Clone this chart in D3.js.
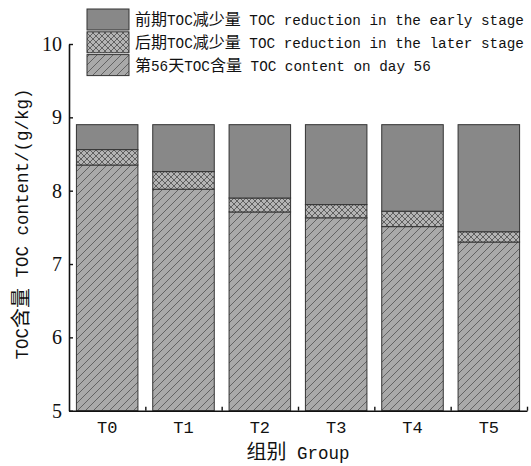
<!DOCTYPE html>
<html>
<head>
<meta charset="utf-8">
<script src="https://cdn.jsdelivr.net/npm/d3@7/dist/d3.min.js"></script>
<style>
  html, body { margin: 0; padding: 0; background: #fff; }
  svg { display: block; }
</style>
</head>
<body>
<svg id="chart" width="531" height="466"></svg>
<script>
// Groups and the three stacked TOC components (g/kg)
const groups = ["T0", "T1", "T2", "T3", "T4", "T5"];
const day56Content = [8.35, 8.02, 7.71, 7.63, 7.51, 7.30];
const laterReduction = [0.21, 0.24, 0.19, 0.18, 0.21, 0.14];
const earlyReduction = [0.34, 0.64, 1.00, 1.09, 1.18, 1.46];
const yTicks = [5, 6, 7, 8, 9, 10];

const seriesNames = [
  "第56天TOC含量 TOC content on day 56",
  "后期TOC减少量 TOC reduction in the later stage",
  "前期TOC减少量 TOC reduction in the early stage"
];
const seriesKeys = ["day56", "later", "early"];

const rows = groups.map((g, i) => ({
  group: g,
  day56: day56Content[i],
  later: laterReduction[i],
  early: earlyReduction[i]
}));

const svg = d3.select("#chart");
const plotLeft = 69, plotRight = 527, plotTop = 44, plotBottom = 410.7;

const x = d3.scaleBand().domain(groups).range([plotLeft, plotRight])
  .paddingInner(0.194).paddingOuter(0.097);
const y = d3.scaleLinear().domain([5, 10]).range([plotBottom, plotTop]);

// Fill patterns
const defs = svg.append("defs");
const hatch = defs.append("pattern").attr("id", "hatch")
  .attr("patternUnits", "userSpaceOnUse").attr("width", 8).attr("height", 8);
hatch.append("rect").attr("width", 8).attr("height", 8).attr("fill", "#a9a9a9");
hatch.append("path").attr("d", "M-2,2 L2,-2 M0,8 L8,0 M6,10 L10,6")
  .attr("stroke", "#505050").attr("stroke-width", 0.8);

const cross = defs.append("pattern").attr("id", "cross")
  .attr("patternUnits", "userSpaceOnUse").attr("width", 6).attr("height", 6);
cross.append("rect").attr("width", 6).attr("height", 6).attr("fill", "#b4b4b4");
cross.append("path").attr("d", "M0,0 L6,6 M6,0 L0,6 M-1,5 L1,7 M5,-1 L7,1 M-1,1 L1,-1 M5,7 L7,5")
  .attr("stroke", "#4a4a4a").attr("stroke-width", 0.8);

const fills = { day56: "url(#hatch)", later: "url(#cross)", early: "#888888" };

// Stacked bars, built up from the axis base at 5
const stacked = d3.stack().keys(seriesKeys)(rows);
const base = y.domain()[0];

svg.append("g").selectAll("g").data(stacked).join("g")
  .attr("fill", d => fills[d.key])
  .selectAll("rect").data(d => d).join("rect")
  .attr("x", d => x(d.data.group))
  .attr("width", x.bandwidth())
  .attr("y", d => y(d[1]))
  .attr("height", d => y(Math.max(d[0], base)) - y(d[1]))
  .attr("stroke", "#333")
  .attr("stroke-width", 1);

// Y axis with inward ticks
const yAxis = svg.append("g").attr("transform", `translate(${plotLeft},0)`)
  .call(d3.axisLeft(y).tickValues(yTicks).tickFormat(d3.format("d"))
    .tickSizeInner(-4).tickSizeOuter(0).tickPadding(7));
yAxis.select(".domain").attr("stroke", "#111").attr("stroke-width", 1.6);
yAxis.selectAll(".tick line").attr("stroke", "#111").attr("stroke-width", 1.4);
yAxis.selectAll("text").attr("font-family", "Liberation Serif, serif")
  .attr("font-size", 20).attr("fill", "#111");

// X axis: boundary ticks between groups
const xb = d3.scaleLinear().domain([0, groups.length]).range([plotLeft, plotRight]);
const xAxis = svg.append("g").attr("transform", `translate(0,${plotBottom})`)
  .call(d3.axisBottom(xb).tickValues(d3.range(1, groups.length + 1))
    .tickSizeInner(-4).tickSizeOuter(0).tickFormat(""));
xAxis.select(".domain").attr("stroke", "#111").attr("stroke-width", 1.6);
xAxis.selectAll(".tick line").attr("stroke", "#111").attr("stroke-width", 1.4);

// Group labels
const xLab = svg.append("g").attr("transform", `translate(0,${plotBottom})`)
  .call(d3.axisBottom(x).tickSize(0).tickPadding(10));
xLab.select(".domain").remove();
xLab.selectAll("text").attr("font-family", "Liberation Mono, monospace")
  .attr("font-size", 17).attr("fill", "#111");

// Mixed CJK / Latin text helper
const cjk = /[\u3000-\u9fff\uff00-\uffef]/;
function runs(str) {
  const out = [];
  for (const ch of str) {
    const isC = cjk.test(ch);
    if (out.length && out[out.length - 1].c === isC) out[out.length - 1].t += ch;
    else out.push({ c: isC, t: ch });
  }
  return out;
}
function mixedText(sel, str, cjkSize, latinSize) {
  runs(str).forEach(r => {
    sel.append("tspan").text(r.t)
      .attr("font-family", r.c ? "Noto Sans CJK SC" : "Liberation Mono, monospace")
      .attr("font-size", r.c ? cjkSize : latinSize)
      .attr("fill", "#111");
  });
}

// Axis titles
const xt = svg.append("text").attr("x", (plotLeft + plotRight) / 2).attr("y", 459)
  .attr("text-anchor", "middle").style("white-space", "pre");
mixedText(xt, "组别 Group", 20, 17.5);

const yt = svg.append("g").attr("opacity", 0.999).append("text")
  .attr("transform", "translate(28,224) rotate(-90)")
  .attr("text-anchor", "middle").style("white-space", "pre");
mixedText(yt, "TOC含量 TOC content/(g/kg)", 20, 17.5);

// Legend (top to bottom: early, later, day 56)
const legendOrder = ["early", "later", "day56"];
const legend = svg.append("g");
legendOrder.forEach((k, i) => {
  const gy = 9 + i * 22.8;
  legend.append("rect").attr("x", 87).attr("y", gy).attr("width", 42).attr("height", 21)
    .attr("fill", fills[k]).attr("stroke", "#333").attr("stroke-width", 1);
  const t = legend.append("text").attr("x", 135).attr("y", gy + 16)
    .style("white-space", "pre");
  mixedText(t, seriesNames[seriesKeys.indexOf(k)], 16, 14.3);
});
</script>
</body>
</html>
